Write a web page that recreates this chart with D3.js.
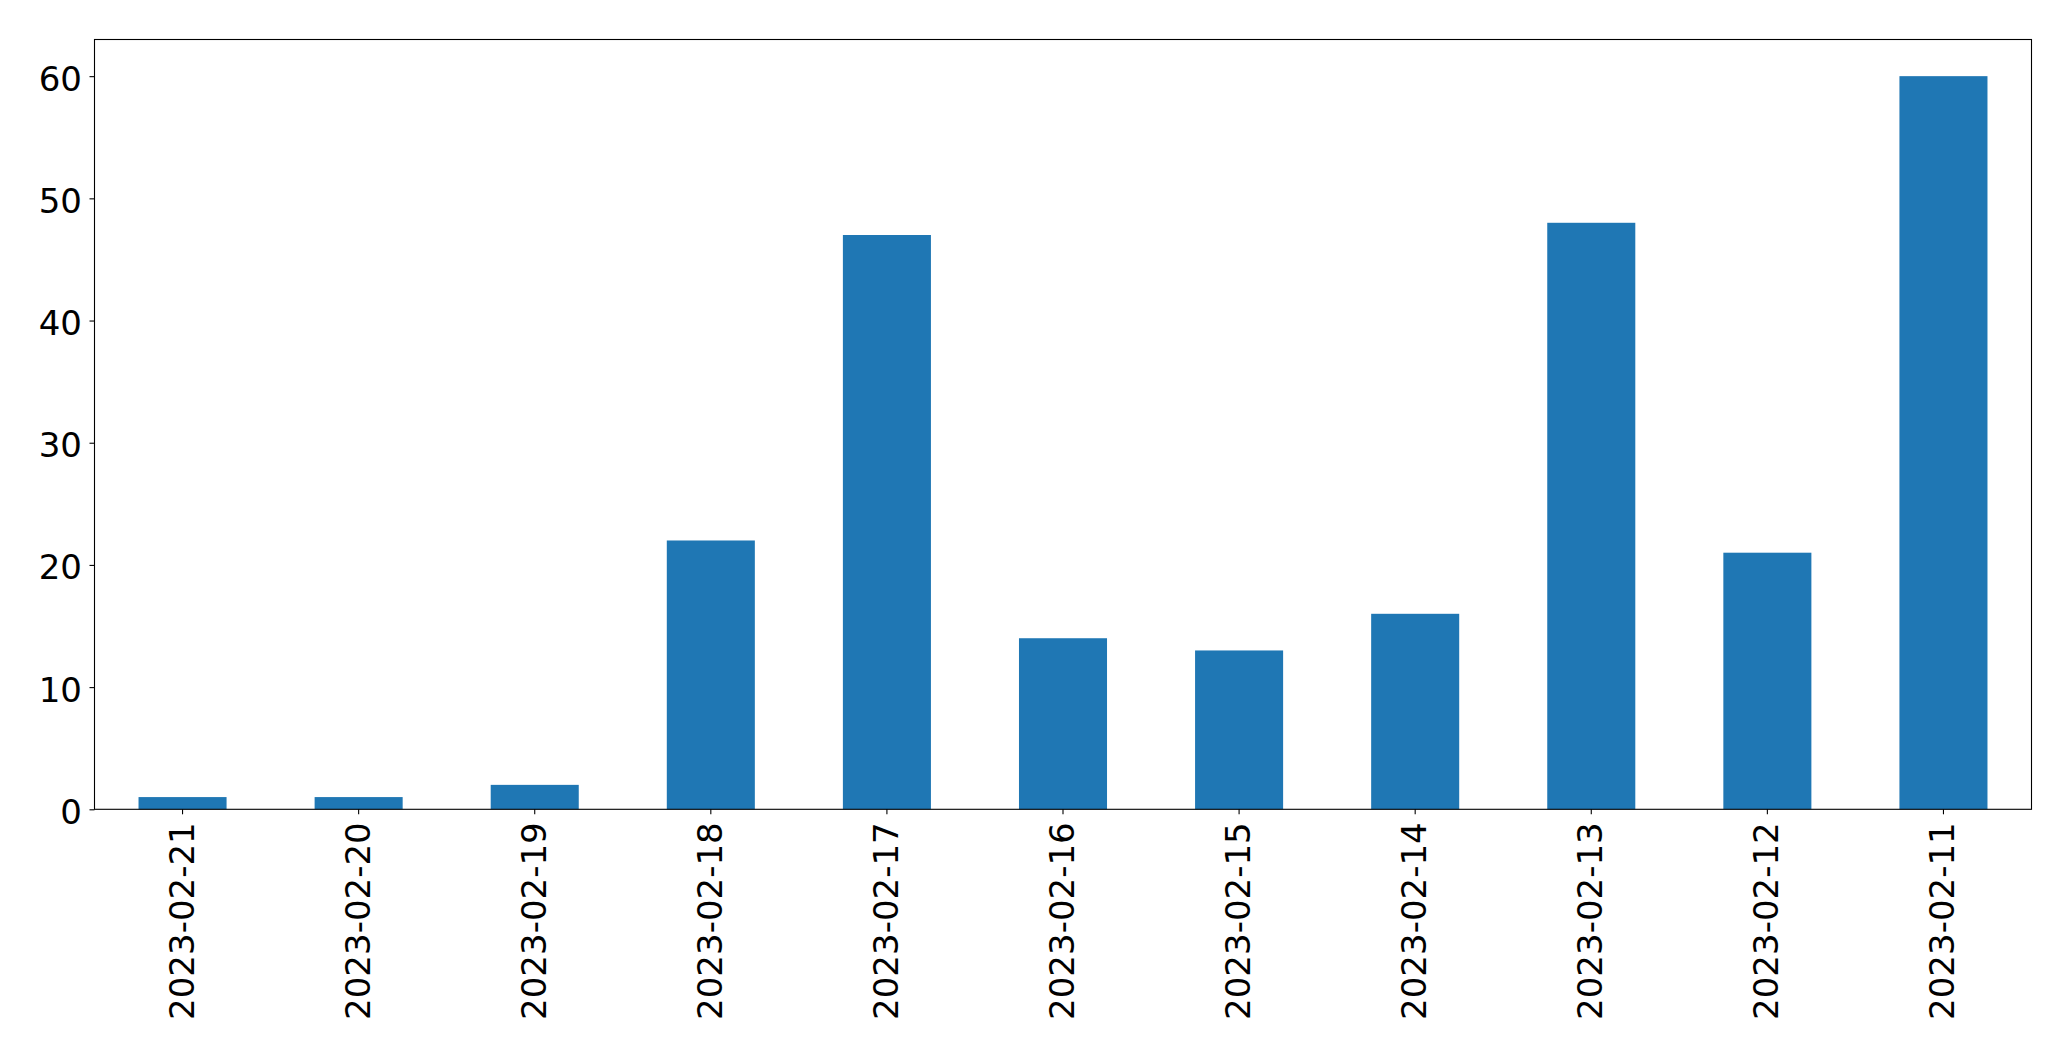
<!DOCTYPE html>
<html>
<head>
<meta charset="utf-8">
<script src="https://cdn.jsdelivr.net/npm/d3@7"></script>
<style>
  html, body { margin: 0; padding: 0; background: #fff; }
  svg { display: block; }
</style>
</head>
<body>
<script>
const categories = ["2023-02-21","2023-02-20","2023-02-19","2023-02-18","2023-02-17","2023-02-16","2023-02-15","2023-02-14","2023-02-13","2023-02-12","2023-02-11"];
const values = [1, 1, 2, 22, 47, 14, 13, 16, 48, 21, 60];
const yTicks = [0, 10, 20, 30, 40, 50, 60];

const W = 2071, H = 1061;
const margin = {left: 94.5, right: 2071 - 2031.5, top: 39.5, bottom: H - 809.3};
const fontFamily = "'DejaVu Sans', sans-serif";
const fontSize = 34;

const svg = d3.select("body").append("svg").attr("width", W).attr("height", H);

const x = d3.scaleBand().domain(categories)
  .range([margin.left, W - margin.right])
  .paddingInner(0.5).paddingOuter(0.25);
const y = d3.scaleLinear().domain([0, 63]).range([H - margin.bottom, margin.top]);

svg.append("g").selectAll("rect").data(values).join("rect")
  .attr("x", (d, i) => x(categories[i]))
  .attr("width", x.bandwidth())
  .attr("y", d => y(d))
  .attr("height", d => y(0) - y(d))
  .attr("fill", "#1f77b4");

// Y axis
const yAxis = d3.axisLeft(y).tickValues(yTicks).tickSize(5).tickPadding(7.5);
const gy = svg.append("g").attr("transform", `translate(${margin.left},0)`).call(yAxis);
gy.select(".domain").remove();
gy.selectAll(".tick line").attr("stroke", "#000").attr("stroke-width", 1.1);
gy.selectAll(".tick text")
  .attr("font-family", fontFamily).attr("font-size", fontSize).attr("fill", "#000")
  .attr("dy", "0.41em");

// X axis
const xAxis = d3.axisBottom(x).tickSize(5).tickPadding(0);
const gx = svg.append("g").attr("transform", `translate(0,${H - margin.bottom})`).call(xAxis);
gx.select(".domain").remove();
gx.selectAll(".tick line").attr("stroke", "#000").attr("stroke-width", 1.1);
gx.selectAll(".tick text")
  .attr("font-family", fontFamily).attr("font-size", fontSize).attr("fill", "#000")
  .attr("text-anchor", "end")
  .attr("dy", null)
  .attr("y", null)
  .attr("transform", "translate(11,13) rotate(-90)");

// Frame
svg.append("rect")
  .attr("x", margin.left).attr("y", margin.top)
  .attr("width", W - margin.right - margin.left)
  .attr("height", H - margin.bottom - margin.top)
  .attr("fill", "none").attr("stroke", "#000").attr("stroke-width", 1.1);
</script>
</body>
</html>
